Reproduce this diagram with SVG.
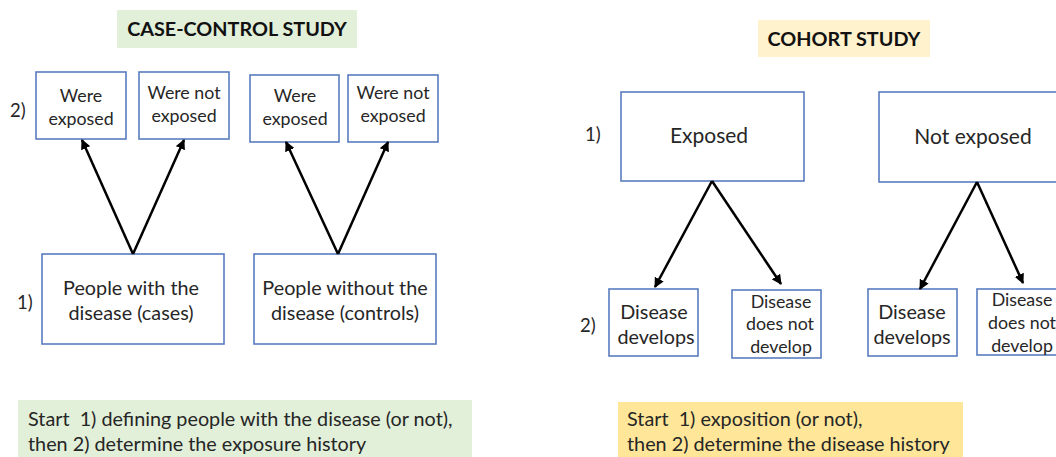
<svg xmlns="http://www.w3.org/2000/svg" width="1056" height="457" viewBox="0 0 1056 457">
<defs>
<style>
text{font-family:Lato,"Open Sans","Liberation Sans",sans-serif;fill:#262626;}
.t{font-weight:bold;font-size:19.8px;text-anchor:middle;fill:#111;}
.box{fill:#fff;stroke:#5a7cbf;stroke-width:1.6;}
.m{text-anchor:middle;}
.s16{font-size:17.8px;}
.s18{font-size:19.8px;}
.s20{font-size:21px;}
.lab{font-size:18.5px;}
.n{font-size:19.8px;}
.conn line{stroke:#000;stroke-width:2.5;marker-end:url(#ah);}
</style>
<marker id="ah" viewBox="0 0 10 10" refX="9" refY="5" markerWidth="4" markerHeight="4" orient="auto" markerUnits="strokeWidth">
<path d="M0,0 L10,5 L0,10 z" fill="#000"/>
</marker>
</defs>
<rect width="1056" height="457" fill="#fff"/>

<g id="title-cc">
<rect x="117" y="10" width="240" height="38" fill="#e2efd9"/>
<text class="t" x="237" y="36">CASE-CONTROL STUDY</text>
</g>
<g id="title-cohort">
<rect x="758" y="20" width="172" height="37" fill="#fff2cc"/>
<text class="t" x="844" y="46">COHORT STUDY</text>
</g>

<text class="lab" x="10" y="117">2)</text>
<text class="lab" x="17" y="309">1)</text>
<text class="lab" x="585" y="141">1)</text>
<text class="lab" x="580" y="332">2)</text>

<g id="cc-exp1">
<rect class="box" x="36" y="72" width="90" height="67"/>
<text class="m s16" x="81" y="102">Were</text>
<text class="m s16" x="81" y="125">exposed</text>
</g>
<g id="cc-notexp1">
<rect class="box" x="139" y="72" width="90" height="67"/>
<text class="m s16" x="184" y="99">Were not</text>
<text class="m s16" x="184" y="122">exposed</text>
</g>
<g id="cc-exp2">
<rect class="box" x="250" y="75" width="89" height="67"/>
<text class="m s16" x="295" y="102">Were</text>
<text class="m s16" x="295" y="125">exposed</text>
</g>
<g id="cc-notexp2">
<rect class="box" x="348" y="75" width="90" height="67"/>
<text class="m s16" x="393" y="99">Were not</text>
<text class="m s16" x="393" y="122">exposed</text>
</g>
<g id="cc-cases">
<rect class="box" x="42" y="254" width="182" height="90"/>
<text class="m s18" x="131" y="295">People with the</text>
<text class="m s18" x="131" y="320">disease (cases)</text>
</g>
<g id="cc-controls">
<rect class="box" x="254" y="254" width="182" height="90"/>
<text class="m s18" x="345" y="295">People without the</text>
<text class="m s18" x="345" y="320">disease (controls)</text>
</g>

<g id="co-exposed">
<rect class="box" x="621" y="92" width="183" height="89"/>
<text class="m s20" x="709" y="143">Exposed</text>
</g>
<g id="co-notexposed">
<rect class="box" x="879" y="92" width="183" height="90"/>
<text class="m s20" x="973" y="144">Not exposed</text>
</g>
<g id="co-dev1">
<rect class="box" x="609" y="289" width="89" height="67"/>
<text class="m s18" x="654" y="319">Disease</text>
<text class="m s18" x="656" y="344">develops</text>
</g>
<g id="co-notdev1">
<rect class="box" x="732" y="290" width="89" height="68"/>
<text class="m s16" x="781" y="308">Disease</text>
<text class="m s16" x="780" y="330">does not</text>
<text class="m s16" x="781" y="353">develop</text>
</g>
<g id="co-dev2">
<rect class="box" x="868" y="289" width="89" height="67"/>
<text class="m s18" x="912" y="319">Disease</text>
<text class="m s18" x="912" y="344">develops</text>
</g>
<g id="co-notdev2">
<rect class="box" x="977" y="289" width="89" height="66"/>
<text class="m s16" x="1022" y="306">Disease</text>
<text class="m s16" x="1022" y="329">does not</text>
<text class="m s16" x="1022" y="352">develop</text>
</g>

<g class="conn" id="connectors">
<line x1="133" y1="254" x2="82" y2="140"/>
<line x1="133" y1="254" x2="184" y2="140"/>
<line x1="338" y1="254" x2="286" y2="142"/>
<line x1="338" y1="254" x2="388" y2="142"/>
<line x1="712" y1="181" x2="655" y2="287"/>
<line x1="712" y1="181" x2="781" y2="284"/>
<line x1="977" y1="182" x2="920" y2="289"/>
<line x1="977" y1="182" x2="1023" y2="283"/>
</g>

<g id="note-cc">
<rect x="18" y="400" width="454" height="57" fill="#e2efd9"/>
<text class="n" x="28" y="426" xml:space="preserve">Start  1) defining people with the disease (or not),</text>
<text class="n" x="28" y="451">then 2) determine the exposure history</text>
</g>
<g id="note-cohort">
<rect x="618" y="402" width="345" height="55" fill="#ffe699"/>
<text class="n" x="627" y="426" xml:space="preserve">Start  1) exposition (or not),</text>
<text class="n" x="627" y="451">then 2) determine the disease history</text>
</g>
</svg>
